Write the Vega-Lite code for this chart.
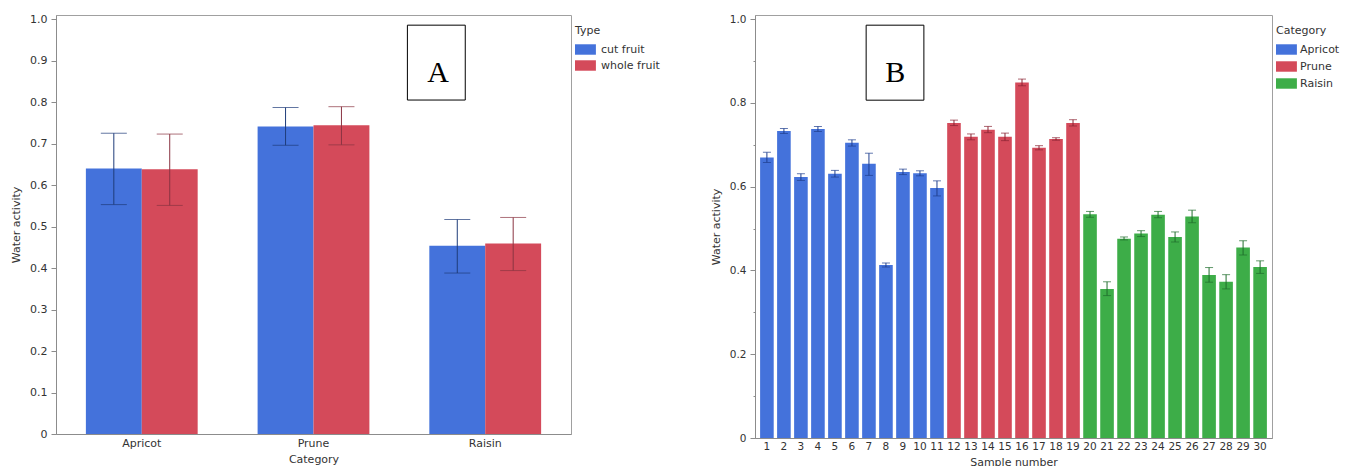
{
  "$schema": "https://vega.github.io/schema/vega-lite/v6.json",
  "padding": {"left": 10, "top": 12, "right": 0, "bottom": 0},
  "spacing": 38,
  "config": {
    "font": "DejaVu Sans",
    "view": {"stroke": "#a0a0a0", "strokeWidth": 1},
    "axis": {
      "labelFont": "DejaVu Sans", "labelFontSize": 11, "labelColor": "#333333",
      "titleFont": "DejaVu Sans", "titleFontSize": 11, "titleFontWeight": "normal", "titleColor": "#333333",
      "domainColor": "#8c8c8c", "tickColor": "#8c8c8c", "grid": false
    },
    "legend": {
      "titleFont": "DejaVu Sans", "labelFont": "DejaVu Sans",
      "titleFontWeight": "normal", "titleFontSize": 11, "labelFontSize": 11,
      "titleColor": "#333333", "labelColor": "#333333",
      "padding": 10, "offset": -6, "titlePadding": 8, "labelOffset": 15,
      "symbolSize": 121, "symbolStrokeWidth": 0
    }
  },
  "datasets": {
    "a": [
      {"Category": "Apricot", "Type": "cut fruit", "aw": 0.640, "lo": 0.553, "hi": 0.725},
      {"Category": "Apricot", "Type": "whole fruit", "aw": 0.638, "lo": 0.551, "hi": 0.723},
      {"Category": "Prune", "Type": "cut fruit", "aw": 0.741, "lo": 0.696, "hi": 0.787},
      {"Category": "Prune", "Type": "whole fruit", "aw": 0.744, "lo": 0.697, "hi": 0.789},
      {"Category": "Raisin", "Type": "cut fruit", "aw": 0.454, "lo": 0.388, "hi": 0.517},
      {"Category": "Raisin", "Type": "whole fruit", "aw": 0.459, "lo": 0.394, "hi": 0.522}
    ],
    "b": [
      {"Sample": 1, "Category": "Apricot", "aw": 0.670, "lo": 0.658, "hi": 0.682},
      {"Sample": 2, "Category": "Apricot", "aw": 0.733, "lo": 0.727, "hi": 0.739},
      {"Sample": 3, "Category": "Apricot", "aw": 0.623, "lo": 0.615, "hi": 0.631},
      {"Sample": 4, "Category": "Apricot", "aw": 0.738, "lo": 0.732, "hi": 0.744},
      {"Sample": 5, "Category": "Apricot", "aw": 0.631, "lo": 0.623, "hi": 0.639},
      {"Sample": 6, "Category": "Apricot", "aw": 0.705, "lo": 0.697, "hi": 0.712},
      {"Sample": 7, "Category": "Apricot", "aw": 0.655, "lo": 0.627, "hi": 0.680},
      {"Sample": 8, "Category": "Apricot", "aw": 0.413, "lo": 0.408, "hi": 0.418},
      {"Sample": 9, "Category": "Apricot", "aw": 0.635, "lo": 0.629, "hi": 0.642},
      {"Sample": 10, "Category": "Apricot", "aw": 0.632, "lo": 0.626, "hi": 0.638},
      {"Sample": 11, "Category": "Apricot", "aw": 0.597, "lo": 0.578, "hi": 0.614},
      {"Sample": 12, "Category": "Prune", "aw": 0.752, "lo": 0.746, "hi": 0.759},
      {"Sample": 13, "Category": "Prune", "aw": 0.719, "lo": 0.712, "hi": 0.726},
      {"Sample": 14, "Category": "Prune", "aw": 0.736, "lo": 0.729, "hi": 0.744},
      {"Sample": 15, "Category": "Prune", "aw": 0.719, "lo": 0.710, "hi": 0.728},
      {"Sample": 16, "Category": "Prune", "aw": 0.849, "lo": 0.841, "hi": 0.857},
      {"Sample": 17, "Category": "Prune", "aw": 0.693, "lo": 0.688, "hi": 0.698},
      {"Sample": 18, "Category": "Prune", "aw": 0.714, "lo": 0.711, "hi": 0.717},
      {"Sample": 19, "Category": "Prune", "aw": 0.752, "lo": 0.745, "hi": 0.760},
      {"Sample": 20, "Category": "Raisin", "aw": 0.534, "lo": 0.527, "hi": 0.541},
      {"Sample": 21, "Category": "Raisin", "aw": 0.356, "lo": 0.340, "hi": 0.373},
      {"Sample": 22, "Category": "Raisin", "aw": 0.476, "lo": 0.473, "hi": 0.480},
      {"Sample": 23, "Category": "Raisin", "aw": 0.488, "lo": 0.481, "hi": 0.495},
      {"Sample": 24, "Category": "Raisin", "aw": 0.533, "lo": 0.526, "hi": 0.541},
      {"Sample": 25, "Category": "Raisin", "aw": 0.480, "lo": 0.468, "hi": 0.492},
      {"Sample": 26, "Category": "Raisin", "aw": 0.529, "lo": 0.514, "hi": 0.544},
      {"Sample": 27, "Category": "Raisin", "aw": 0.389, "lo": 0.372, "hi": 0.407},
      {"Sample": 28, "Category": "Raisin", "aw": 0.373, "lo": 0.356, "hi": 0.390},
      {"Sample": 29, "Category": "Raisin", "aw": 0.455, "lo": 0.437, "hi": 0.471},
      {"Sample": 30, "Category": "Raisin", "aw": 0.408, "lo": 0.393, "hi": 0.423}
    ],
    "boxA": [{"x1": 2.047, "x2": 2.384, "y1": 0.805, "y2": 0.9855, "cx": 2.225, "cy": 0.848, "label": "A"}],
    "boxB": [{"x1": 6.45, "x2": 9.80, "y1": 0.8066, "y2": 0.9857, "cx": 8.14, "cy": 0.850, "label": "B"}]
  },
  "hconcat": [
    {
      "width": 515,
      "height": 419,
      "layer": [
        {
          "data": {"name": "a"},
          "encoding": {
            "x": {"field": "Category", "type": "nominal",
                  "scale": {"paddingInner": 0.349, "paddingOuter": 0.174},
                  "axis": {"title": "Category", "labelAngle": 0, "ticks": false, "labelPadding": 3, "titlePadding": 5}},
            "xOffset": {"field": "Type", "type": "nominal", "scale": {"paddingInner": 0, "paddingOuter": 0}}
          },
          "layer": [
            {
              "mark": {"type": "bar"},
              "encoding": {
                "y": {"field": "aw", "type": "quantitative", "title": "Water activity",
                      "scale": {"domain": [0, 1.01], "nice": false},
                      "axis": {"values": [0, 0.1, 0.2, 0.3, 0.4, 0.5, 0.6, 0.7, 0.8, 0.9, 1.0],
                               "labelExpr": "datum.value == 0 ? '0' : format(datum.value, '.1f')",
                               "tickSize": 5, "labelPadding": 4, "titlePadding": 8, "labelOverlap": false}},
                "color": {"field": "Type", "type": "nominal",
                          "scale": {"domain": ["cut fruit", "whole fruit"], "range": ["#4472DB", "#D44A5A"]},
                          "legend": {"title": "Type", "symbolType": "M-1,-0.95H2.8V0.95H-1Z", "rowPadding": 4}}
              }
            },
            {
              "mark": {"type": "rule", "strokeWidth": 1},
              "encoding": {
                "y": {"field": "lo", "type": "quantitative", "title": "Water activity", "scale": {"domain": [0, 1.01], "nice": false}},
                "y2": {"field": "hi", "title": "Water activity"},
                "stroke": {"field": "Type", "type": "nominal",
                           "scale": {"domain": ["cut fruit", "whole fruit"], "range": ["#1F3C7A", "#8A3442"]}, "legend": null}
              }
            },
            {
              "mark": {"type": "tick", "size": 26, "thickness": 1},
              "encoding": {
                "y": {"field": "hi", "type": "quantitative", "title": "Water activity", "scale": {"domain": [0, 1.01], "nice": false}},
                "fill": {"field": "Type", "type": "nominal",
                         "scale": {"domain": ["cut fruit", "whole fruit"], "range": ["#1F3C7A", "#8A3442"]}, "legend": null}
              }
            },
            {
              "mark": {"type": "tick", "size": 26, "thickness": 1},
              "encoding": {
                "y": {"field": "lo", "type": "quantitative", "title": "Water activity", "scale": {"domain": [0, 1.01], "nice": false}},
                "fill": {"field": "Type", "type": "nominal",
                         "scale": {"domain": ["cut fruit", "whole fruit"], "range": ["#1F3C7A", "#8A3442"]}, "legend": null}
              }
            }
          ]
        },
        {
          "data": {"name": "boxA"},
          "layer": [
            {
              "mark": {"type": "rect", "fill": "white", "stroke": "black", "strokeWidth": 1},
              "encoding": {
                "x": {"field": "x1", "type": "quantitative", "scale": {"domain": [0, 3], "nice": false, "zero": false}, "axis": null},
                "x2": {"field": "x2"},
                "y": {"field": "y1", "type": "quantitative", "scale": {"domain": [0, 1.01], "nice": false}, "axis": null},
                "y2": {"field": "y2"}
              }
            },
            {
              "mark": {"type": "text", "font": "Liberation Serif", "fontSize": 30, "baseline": "alphabetic", "align": "center", "color": "black"},
              "encoding": {
                "x": {"field": "cx", "type": "quantitative", "scale": {"domain": [0, 3], "nice": false, "zero": false}, "axis": null},
                "y": {"field": "cy", "type": "quantitative", "scale": {"domain": [0, 1.01], "nice": false}, "axis": null},
                "text": {"field": "label"}
              }
            }
          ]
        }
      ],
      "resolve": {"scale": {"x": "independent"}, "axis": {"y": "independent"}}
    },
    {
      "width": 517,
      "height": 423,
      "layer": [
        {
          "data": {"name": "b"},
          "encoding": {
            "x": {"field": "Sample", "type": "ordinal",
                  "scale": {"paddingInner": 0.2, "paddingOuter": 0.3},
                  "axis": {"title": "Sample number", "labelAngle": 0, "ticks": false, "labelPadding": 3, "titlePadding": 5, "labelFontSize": 10.5}}
          },
          "layer": [
            {
              "mark": {"type": "bar"},
              "encoding": {
                "y": {"field": "aw", "type": "quantitative", "title": "Water activity",
                      "scale": {"domain": [0, 1.01], "nice": false},
                      "axis": {"values": [0, 0.1, 0.2, 0.3, 0.4, 0.5, 0.6, 0.7, 0.8, 0.9, 1.0],
                               "labelExpr": "round(datum.value * 10) % 2 == 1 ? '' : (datum.value == 0 ? '0' : format(datum.value, '.1f'))",
                               "tickSize": {"condition": {"test": "round(datum.value * 10) % 2 == 1", "value": 2}, "value": 5},
                               "labelPadding": 4, "titlePadding": 8, "labelOverlap": false, "labelFontSize": 10.5}},
                "color": {"field": "Category", "type": "nominal",
                          "scale": {"domain": ["Apricot", "Prune", "Raisin"], "range": ["#4472DB", "#D44A5A", "#3DAD48"]},
                          "legend": {"title": "Category", "symbolType": "M-1,-0.95H2.8V0.95H-1Z", "rowPadding": 5, "labelOffset": 13}}
              }
            },
            {
              "mark": {"type": "rule", "strokeWidth": 1},
              "encoding": {
                "y": {"field": "lo", "type": "quantitative", "title": "Water activity", "scale": {"domain": [0, 1.01], "nice": false}},
                "y2": {"field": "hi", "title": "Water activity"},
                "stroke": {"field": "Category", "type": "nominal",
                           "scale": {"domain": ["Apricot", "Prune", "Raisin"], "range": ["#1F3F8F", "#8A2433", "#1F6E2C"]}, "legend": null}
              }
            },
            {
              "mark": {"type": "tick", "size": 8, "thickness": 1},
              "encoding": {
                "y": {"field": "hi", "type": "quantitative", "title": "Water activity", "scale": {"domain": [0, 1.01], "nice": false}},
                "fill": {"field": "Category", "type": "nominal",
                         "scale": {"domain": ["Apricot", "Prune", "Raisin"], "range": ["#1F3F8F", "#8A2433", "#1F6E2C"]}, "legend": null}
              }
            },
            {
              "mark": {"type": "tick", "size": 8, "thickness": 1},
              "encoding": {
                "y": {"field": "lo", "type": "quantitative", "title": "Water activity", "scale": {"domain": [0, 1.01], "nice": false}},
                "fill": {"field": "Category", "type": "nominal",
                         "scale": {"domain": ["Apricot", "Prune", "Raisin"], "range": ["#1F3F8F", "#8A2433", "#1F6E2C"]}, "legend": null}
              }
            }
          ]
        },
        {
          "data": {"name": "boxB"},
          "layer": [
            {
              "mark": {"type": "rect", "fill": "white", "stroke": "black", "strokeWidth": 1},
              "encoding": {
                "x": {"field": "x1", "type": "quantitative", "scale": {"domain": [0, 30], "nice": false, "zero": false}, "axis": null},
                "x2": {"field": "x2"},
                "y": {"field": "y1", "type": "quantitative", "scale": {"domain": [0, 1.01], "nice": false}, "axis": null},
                "y2": {"field": "y2"}
              }
            },
            {
              "mark": {"type": "text", "font": "Liberation Serif", "fontSize": 30, "baseline": "alphabetic", "align": "center", "color": "black"},
              "encoding": {
                "x": {"field": "cx", "type": "quantitative", "scale": {"domain": [0, 30], "nice": false, "zero": false}, "axis": null},
                "y": {"field": "cy", "type": "quantitative", "scale": {"domain": [0, 1.01], "nice": false}, "axis": null},
                "text": {"field": "label"}
              }
            }
          ]
        }
      ],
      "resolve": {"scale": {"x": "independent"}, "axis": {"y": "independent"}}
    }
  ],
  "resolve": {
    "scale": {"color": "independent", "x": "independent", "y": "independent", "stroke": "independent", "fill": "independent"},
    "legend": {"color": "independent"}
  }
}
